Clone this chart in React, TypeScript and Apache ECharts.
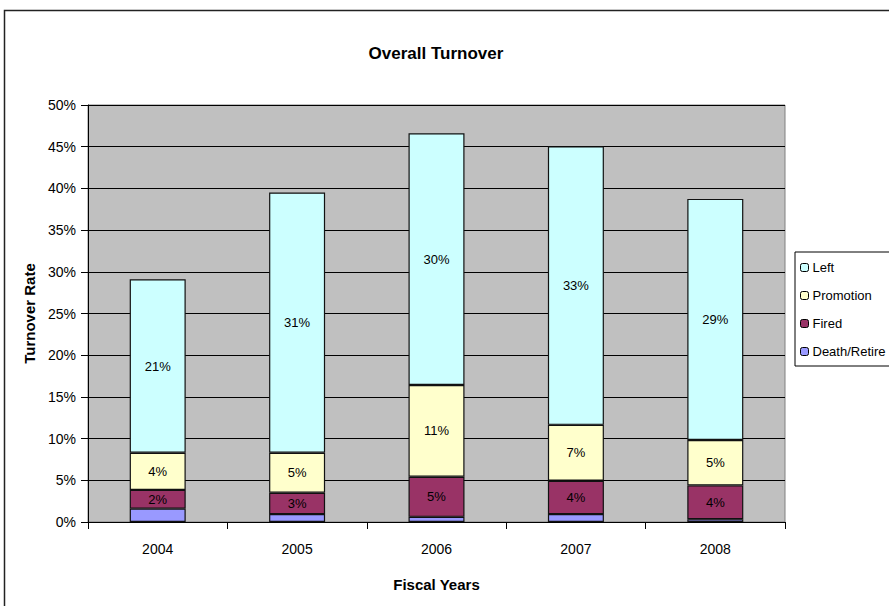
import React, { useEffect, useRef } from "react";
import * as echarts from "echarts";

const years = ["2004", "2005", "2006", "2007", "2008"];
const deathRetire = [1.6, 0.95, 0.62, 0.95, 0.34];
const fired = [2.25, 2.55, 4.8, 4.0, 4.05];
const promotion = [4.45, 4.8, 11.0, 6.7, 5.45];
const left = [20.8, 31.2, 30.2, 33.4, 28.9];
const yTicks = [0, 5, 10, 15, 20, 25, 30, 35, 40, 45, 50];

const FONT = "'Liberation Sans', Arial, sans-serif";

export default function App() {
  const ref = useRef<HTMLDivElement>(null);
  useEffect(() => {
    document.body.style.margin = "0";
    const chart = echarts.init(ref.current!, undefined, { renderer: "svg" });
    const label = (show: boolean) => ({
      show,
      position: "inside" as const,
      color: "#000",
      fontSize: 13,
      fontFamily: FONT,
      formatter: (p: any) => Math.round(p.value) + "%",
    });
    const mk = (name: string, data: number[], color: string, showLabel: boolean) => ({
      name,
      type: "bar" as const,
      stack: "t",
      data,
      barWidth: 56,
      itemStyle: { color, borderColor: "#111", borderWidth: 1.2 },
      label: label(showLabel),
    });
    chart.setOption({
      animation: false,
      textStyle: { fontFamily: FONT },
      title: {
        text: "Overall Turnover",
        left: 431,
        top: 40,
        textAlign: "center",
        textStyle: { fontSize: 17, fontWeight: "bold", color: "#000", fontFamily: FONT },
      },
      graphic: [
        {
          type: "rect",
          shape: { x: 4.5, y: 10.5, width: 950, height: 700 },
          style: { fill: "none", stroke: "#222", lineWidth: 1.5 },
          silent: true,
          z: 100,
        },
      ],
      legend: {
        orient: "vertical",
        left: 795,
        top: 252,
        padding: [9, 20, 8, 5],
        itemWidth: 8,
        itemHeight: 8,
        itemGap: 15,
        borderColor: "#000",
        borderWidth: 1,
        backgroundColor: "#fff",
        textStyle: { fontSize: 13, color: "#000", fontFamily: FONT, padding: [0, 0, 0, -1] },
        data: ["Left", "Promotion", "Fired", "Death/Retire"],
        itemStyle: { borderColor: "#000", borderWidth: 1 },
      },
      grid: {
        left: 88,
        top: 105,
        width: 697,
        height: 417,
        show: true,
        backgroundColor: "#C0C0C0",
        borderColor: "#808080",
        borderWidth: 1,
      },
      xAxis: {
        type: "category",
        data: years,
        name: "Fiscal Years",
        nameLocation: "middle",
        nameGap: 55,
        nameTextStyle: { fontSize: 15, fontWeight: "bold", color: "#000", fontFamily: FONT },
        axisLine: { lineStyle: { color: "#000", width: 1 } },
        axisTick: { show: true, length: 7, lineStyle: { color: "#000" } },
        axisLabel: { color: "#000", fontSize: 14, margin: 20, fontFamily: FONT },
      },
      yAxis: {
        type: "value",
        min: 0,
        max: 50,
        interval: 5,
        name: "Turnover Rate",
        nameLocation: "middle",
        nameGap: 50,
        nameTextStyle: { fontSize: 15, fontWeight: "bold", color: "#000", fontFamily: FONT },
        axisLine: { show: true, lineStyle: { color: "#000", width: 1 } },
        axisTick: { show: true, length: 7, lineStyle: { color: "#000" } },
        axisLabel: {
          color: "#000",
          fontSize: 14,
          margin: 12,
          fontFamily: FONT,
          formatter: (v: number) => (yTicks.includes(v) ? v + "%" : ""),
        },
        splitLine: { show: true, lineStyle: { color: "#000", width: 1 } },
      },
      series: [
        mk("Death/Retire", deathRetire, "#9999FF", false),
        mk("Fired", fired, "#993366", true),
        mk("Promotion", promotion, "#FFFFCC", true),
        mk("Left", left, "#CCFFFF", true),
      ],
    });
    return () => chart.dispose();
  }, []);
  return <div ref={ref} style={{ width: 889, height: 606 }} />;
}
